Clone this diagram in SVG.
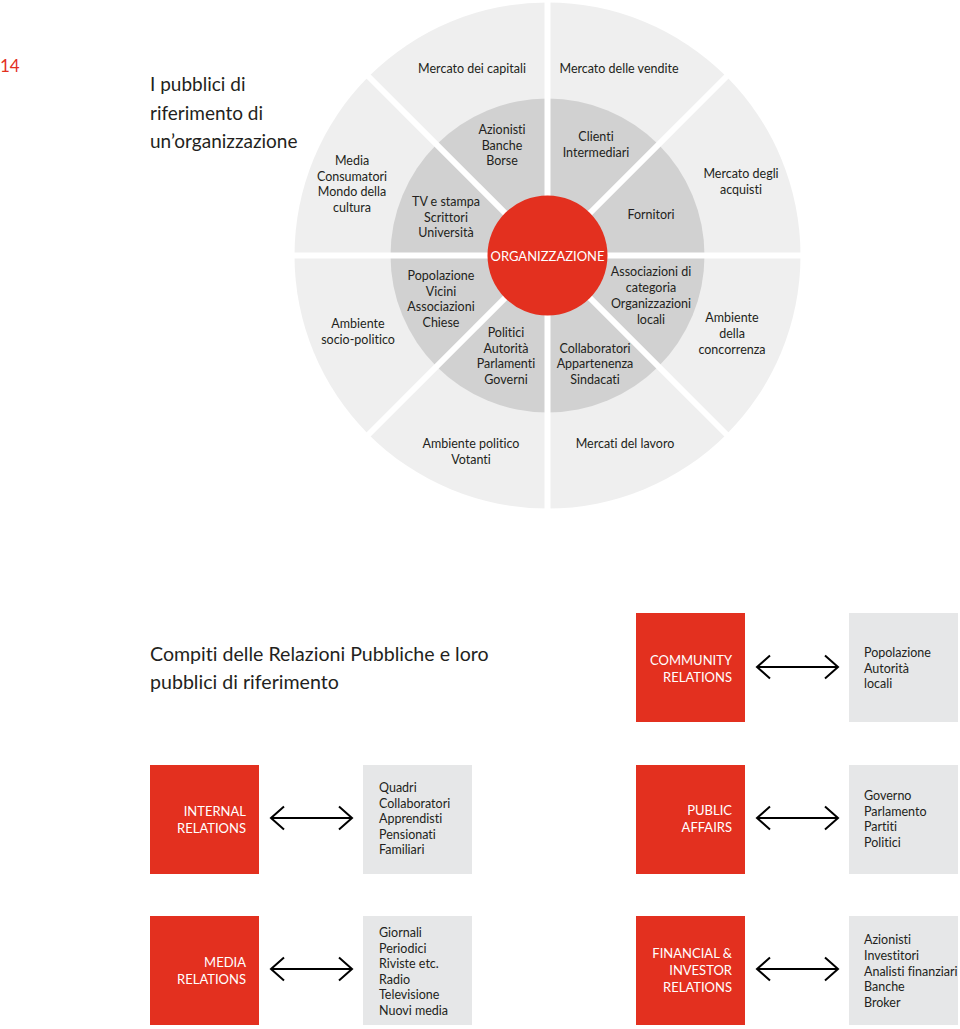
<svg xmlns="http://www.w3.org/2000/svg" xmlns:xlink="http://www.w3.org/1999/xlink" width="960" height="1029" viewBox="0 0 960 1029">
<style>
text{font-family:Lato,"Open Sans","Liberation Sans",sans-serif;fill:#231f20;font-variant-ligatures:none}
.c{font-size:12.5px;text-anchor:middle}
.t{font-size:19px}
.t2{font-size:19.6px}
.w{fill:#fff;font-size:13px}
.rb{fill:#e3301f}
.gb{fill:#e6e7e8}
.rt{font-size:13px;fill:#fff;text-anchor:end}
.gt{font-size:12.5px}
.gap{stroke:#fff;stroke-width:6}
.arr{fill:none;stroke:#000;stroke-width:2}
</style>
<defs>
<path id="arrow" d="M0,0 H81 M13,-11.5 L0,0 L13,11.5 M68,-11.5 L81,0 L68,11.5" class="arr"/>
</defs>
<rect width="960" height="1029" fill="#fff"/>
<text x="0" y="72" style="font-size:17px;fill:#e3301f">14</text>
<g id="title1">
<text class="t" x="150" y="91">I pubblici di</text>
<text class="t" x="150" y="120">riferimento di</text>
<text class="t" x="150" y="148">un’organizzazione</text>
</g>
<g id="wheel">
<circle cx="547.5" cy="255.5" r="253" fill="#efefef"/>
<circle cx="547.5" cy="255.5" r="157" fill="#d1d1d1"/>
<g class="gap">
<line x1="547.5" y1="0" x2="547.5" y2="515"/>
<line x1="290" y1="255.5" x2="805" y2="255.5"/>
<line x1="365" y1="73" x2="730" y2="438"/>
<line x1="730" y1="73" x2="365" y2="438"/>
</g>
<circle cx="547.5" cy="255.5" r="60" fill="#e3301f"/>
</g>
<g id="n-org"><text class="c w" x="547.5" y="260.5">ORGANIZZAZIONE</text></g>
<g id="n-capitali"><text class="c" x="472" y="73">Mercato dei capitali</text></g>
<g id="n-vendite"><text class="c" x="619" y="73">Mercato delle vendite</text></g>
<g id="n-media"><text class="c" x="352" y="165">Media</text><text class="c" x="352" y="180.5">Consumatori</text><text class="c" x="352" y="196">Mondo della</text><text class="c" x="352" y="212">cultura</text></g>
<g id="n-tv"><text class="c" x="446" y="206">TV e stampa</text><text class="c" x="446" y="221.5">Scrittori</text><text class="c" x="446" y="237">Università</text></g>
<g id="n-azionisti"><text class="c" x="502" y="134">Azionisti</text><text class="c" x="502" y="149.5">Banche</text><text class="c" x="502" y="165">Borse</text></g>
<g id="n-clienti"><text class="c" x="596" y="141">Clienti</text><text class="c" x="596" y="156.5">Intermediari</text></g>
<g id="n-fornitori"><text class="c" x="651" y="219">Fornitori</text></g>
<g id="n-acquisti"><text class="c" x="741" y="178">Mercato degli</text><text class="c" x="741" y="193.5">acquisti</text></g>
<g id="n-socio"><text class="c" x="358" y="328">Ambiente</text><text class="c" x="358" y="343.5">socio-politico</text></g>
<g id="n-popolazione"><text class="c" x="441" y="280">Popolazione</text><text class="c" x="441" y="295.5">Vicini</text><text class="c" x="441" y="311">Associazioni</text><text class="c" x="441" y="327">Chiese</text></g>
<g id="n-politici"><text class="c" x="506" y="337">Politici</text><text class="c" x="506" y="352.5">Autorità</text><text class="c" x="506" y="368">Parlamenti</text><text class="c" x="506" y="384">Governi</text></g>
<g id="n-associazioni"><text class="c" x="651" y="276">Associazioni di</text><text class="c" x="651" y="292">categoria</text><text class="c" x="651" y="308">Organizzazioni</text><text class="c" x="651" y="324">locali</text></g>
<g id="n-collaboratori"><text class="c" x="595" y="352.5">Collaboratori</text><text class="c" x="595" y="368">Appartenenza</text><text class="c" x="595" y="384">Sindacati</text></g>
<g id="n-concorrenza"><text class="c" x="732" y="322">Ambiente</text><text class="c" x="732" y="338">della</text><text class="c" x="732" y="354">concorrenza</text></g>
<g id="n-politico"><text class="c" x="471" y="448">Ambiente politico</text><text class="c" x="471" y="464">Votanti</text></g>
<g id="n-lavoro"><text class="c" x="625" y="448">Mercati del lavoro</text></g>

<g id="title2">
<text class="t2" x="150" y="661">Compiti delle Relazioni Pubbliche e loro</text>
<text class="t2" x="150" y="689">pubblici di riferimento</text>
</g>

<g id="n-community"><rect class="rb" x="636" y="613" width="109" height="109"/><text class="rt" x="732" y="665">COMMUNITY</text><text class="rt" x="732" y="682">RELATIONS</text></g>
<g id="n-community-p"><rect class="gb" x="849" y="613" width="109" height="109"/><text class="gt" x="864" y="657">Popolazione</text><text class="gt" x="864" y="672.5">Autorità</text><text class="gt" x="864" y="688">locali</text></g>

<g id="n-internal"><rect class="rb" x="150" y="765" width="109" height="109"/><text class="rt" x="246" y="816">INTERNAL</text><text class="rt" x="246" y="833">RELATIONS</text></g>
<g id="n-internal-p"><rect class="gb" x="363" y="765" width="109" height="109"/><text class="gt" x="379" y="792">Quadri</text><text class="gt" x="379" y="807.5">Collaboratori</text><text class="gt" x="379" y="823">Apprendisti</text><text class="gt" x="379" y="838.5">Pensionati</text><text class="gt" x="379" y="854">Familiari</text></g>

<g id="n-public"><rect class="rb" x="636" y="765" width="109" height="109"/><text class="rt" x="732" y="815">PUBLIC</text><text class="rt" x="732" y="832">AFFAIRS</text></g>
<g id="n-public-p"><rect class="gb" x="849" y="765" width="109" height="109"/><text class="gt" x="864" y="800">Governo</text><text class="gt" x="864" y="815.5">Parlamento</text><text class="gt" x="864" y="831">Partiti</text><text class="gt" x="864" y="846.5">Politici</text></g>

<g id="n-media-rel"><rect class="rb" x="150" y="916" width="109" height="109"/><text class="rt" x="246" y="967">MEDIA</text><text class="rt" x="246" y="984">RELATIONS</text></g>
<g id="n-media-p"><rect class="gb" x="363" y="916" width="109" height="109"/><text class="gt" x="379" y="937">Giornali</text><text class="gt" x="379" y="952.5">Periodici</text><text class="gt" x="379" y="968">Riviste etc.</text><text class="gt" x="379" y="983.5">Radio</text><text class="gt" x="379" y="999">Televisione</text><text class="gt" x="379" y="1014.5">Nuovi media</text></g>

<g id="n-financial"><rect class="rb" x="636" y="916" width="109" height="109"/><text class="rt" x="732" y="958">FINANCIAL &amp;</text><text class="rt" x="732" y="975">INVESTOR</text><text class="rt" x="732" y="992">RELATIONS</text></g>
<g id="n-financial-p"><rect class="gb" x="849" y="916" width="109" height="109"/><text class="gt" x="864" y="944">Azionisti</text><text class="gt" x="864" y="960">Investitori</text><text class="gt" x="864" y="975.5">Analisti finanziari</text><text class="gt" x="864" y="991">Banche</text><text class="gt" x="864" y="1006.5">Broker</text></g>

<g id="connectors">
<use xlink:href="#arrow" x="757" y="667"/>
<use xlink:href="#arrow" x="271" y="818"/>
<use xlink:href="#arrow" x="757" y="818"/>
<use xlink:href="#arrow" x="271" y="969"/>
<use xlink:href="#arrow" x="757" y="969"/>
</g>
</svg>
